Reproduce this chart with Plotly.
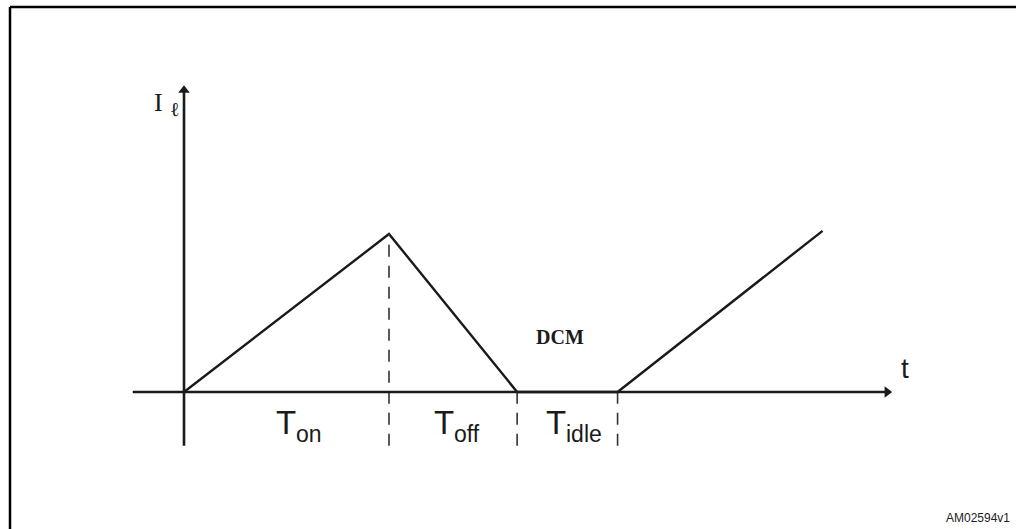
import plotly.graph_objects as go

# Inductor current waveform in discontinuous conduction mode (DCM)
t_on = 2.0
t_off = 1.25
t_idle = 0.98
i_peak = 1.0
i_next = 1.02

t_pts = [0.0, t_on, t_on + t_off, t_on + t_off + t_idle, t_on + t_off + t_idle + 2.0]
i_pts = [0.0, i_peak, 0.0, 0.0, i_next]

interval_labels = ["on", "off", "idle"]
boundaries = [t_on, t_on + t_off, t_on + t_off + t_idle]

W, H = 1016, 529
PX_T, PX_I = 102.5, 158.0      # pixels per unit
X0, Y0 = 184.0, 392.0           # origin in pixels

x_range = [-X0 / PX_T, (W - X0) / PX_T]
y_range = [-(H - Y0) / PX_I, Y0 / PX_I]

t_axis_min, t_axis_max = -0.5, 6.86
i_axis_min, i_axis_max = -0.34, 1.91

ink = "#1a1a1a"
fig = go.Figure()

# waveform
fig.add_trace(go.Scatter(x=t_pts, y=i_pts, mode="lines",
                         line=dict(color=ink, width=2.4), hoverinfo="skip"))

# dashed interval markers
for k, tb in enumerate(boundaries):
    top = i_peak if k == 0 else 0.0
    fig.add_trace(go.Scatter(x=[tb, tb], y=[i_axis_min, top], mode="lines",
                             line=dict(color="#333", width=1.6, dash="12px,9px"),
                             hoverinfo="skip"))

# axes
fig.add_trace(go.Scatter(x=[t_axis_min, t_axis_max], y=[0, 0], mode="lines",
                         line=dict(color=ink, width=2.6), hoverinfo="skip"))
fig.add_trace(go.Scatter(x=[0, 0], y=[i_axis_min, i_axis_max], mode="lines",
                         line=dict(color=ink, width=2.6), hoverinfo="skip"))
# arrow heads at the far ends of the axes
fig.add_trace(go.Scatter(x=[t_axis_max, 0], y=[0, i_axis_max], mode="markers",
                         marker=dict(symbol=["triangle-right", "triangle-up"], size=10,
                                     color=ink, line=dict(width=0)),
                         hoverinfo="skip"))

# interval labels: "T" followed by a lowered, smaller suffix
lbl_family = "Liberation Sans, Arial"
t_left = [0.888, 2.429, 3.522]
for xl, sub in zip(t_left, interval_labels):
    fig.add_annotation(x=xl, y=-0.192, xref="x", yref="y", xanchor="left",
                       yanchor="middle", showarrow=False, text="T", borderpad=0,
                       font=dict(family=lbl_family, size=33, color=ink))
    fig.add_annotation(x=xl + 0.195, y=-0.266, xref="x", yref="y", xanchor="left",
                       yanchor="middle", showarrow=False, text=sub, borderpad=0,
                       font=dict(family=lbl_family, size=23, color=ink))

# axis names
fig.add_annotation(x=-0.25, y=1.83, xref="x", yref="y", showarrow=False,
                   text="I", font=dict(family="Liberation Serif, Times New Roman",
                                       size=26, color=ink))
fig.add_annotation(x=-0.09, y=1.79, xref="x", yref="y", showarrow=False,
                   text="ℓ", font=dict(family="DejaVu Serif", size=20, color=ink))
fig.add_annotation(x=7.03, y=0.15, xref="x", yref="y", showarrow=False,
                   text="t", font=dict(family="Liberation Sans, Arial", size=28, color=ink))

fig.add_annotation(x=3.67, y=0.35, xref="x", yref="y", showarrow=False,
                   text="<b>DCM</b>",
                   font=dict(family="Liberation Serif, Times New Roman", size=20, color=ink))

fig.add_annotation(x=1012 / W, y=(H - 518) / H, xref="paper", yref="paper",
                   xanchor="right", yanchor="middle", showarrow=False,
                   text="AM02594v1",
                   font=dict(family="Liberation Sans Narrow, Liberation Sans, Arial",
                             size=12, color="#222"))

# frame (left and top edges)
fig.add_shape(type="line", xref="paper", yref="paper",
              x0=10 / W, y0=0, x1=10 / W, y1=1 - 7 / H,
              line=dict(color="black", width=2.5))
fig.add_shape(type="line", xref="paper", yref="paper",
              x0=10 / W, y0=1 - 7 / H, x1=1.01, y1=1 - 7 / H,
              line=dict(color="black", width=2.5))

fig.update_layout(width=W, height=H, margin=dict(l=0, r=0, t=0, b=0),
                  paper_bgcolor="white", plot_bgcolor="white", showlegend=False,
                  xaxis=dict(range=x_range, visible=False, fixedrange=True),
                  yaxis=dict(range=y_range, visible=False, fixedrange=True))

fig.write_html("out.html")
